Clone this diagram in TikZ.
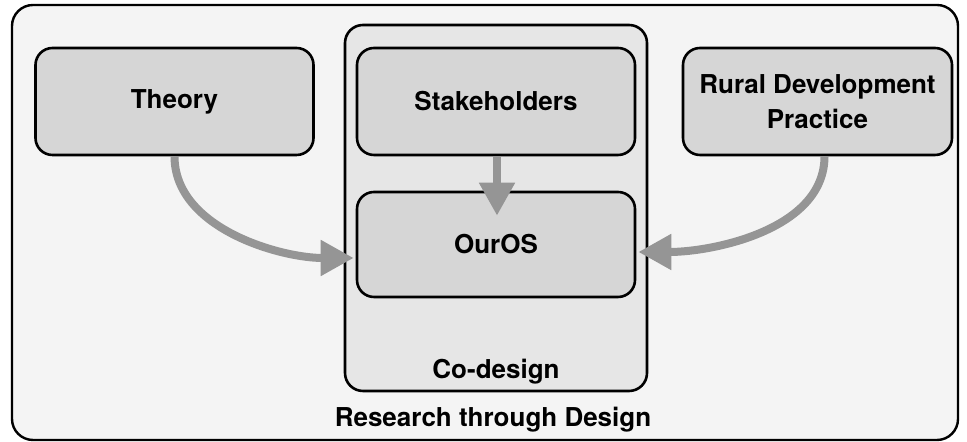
\documentclass[tikz,border=0pt]{standalone}
\usepackage{fontspec}
\setmainfont{TeX Gyre Heros}
\usetikzlibrary{arrows.meta}
\definecolor{outerbg}{RGB}{244, 244, 244}
\definecolor{codesignbg}{RGB}{230, 230, 230}
\definecolor{boxbg}{RGB}{214, 214, 214}
\definecolor{flow}{RGB}{149, 149, 149}

\begin{document}
\begin{tikzpicture}[x=0.5pt, y=0.5pt,
    box/.style={draw, line width=1.3pt, rounded corners=8.5pt, fill=boxbg,
      minimum width=#1, minimum height=53.5pt, align=center, inner sep=0pt},
    box/.default=139pt,
    flowarrow/.style={draw=flow, line width=4pt,
      -{Triangle[length=16.5pt, width=17pt]}},
    font=\fontsize{13}{17.5}\selectfont\bfseries]
  \useasboundingbox (0, 0) rectangle (967, 442);

  \draw[line width=1.2pt, rounded corners=10.5pt, fill=outerbg] (12, 2) rectangle (958, 437);
  \node (rtd) at (493, 22) {Research through Design};

  \node[draw, line width=1.3pt, rounded corners=9pt, fill=codesignbg,
    minimum width=151pt, minimum height=183pt] (codesign) at (496, 234) {};
  \node (codesignlabel) at (496, 70) {Co-design};

  \node[box] (theory) at (174.5, 340.5) {Theory};
  \node[box] (stake) at (496, 340.5) {Stakeholders};
  \node[box=134.5pt] (rural) at (817.5, 340.5) {Rural Development\\Practice};
  \node[box, minimum height=52.5pt] (ouros) at (496, 197.5) {OurOS};

  \draw[flowarrow] (theory.south) to[out=-90, in=180, looseness=0.9]
    ([xshift=-1pt, yshift=-6.75pt]ouros.west);
  \draw[flowarrow] ([xshift=0.5pt]stake.south) -- ([xshift=0.5pt, yshift=-12.5pt]ouros.north);
  \draw[flowarrow] ([xshift=3.5pt]rural.south) to[out=-90, in=0, looseness=0.9]
    ([xshift=1pt, yshift=-3.75pt]ouros.east);
\end{tikzpicture}
\end{document}
